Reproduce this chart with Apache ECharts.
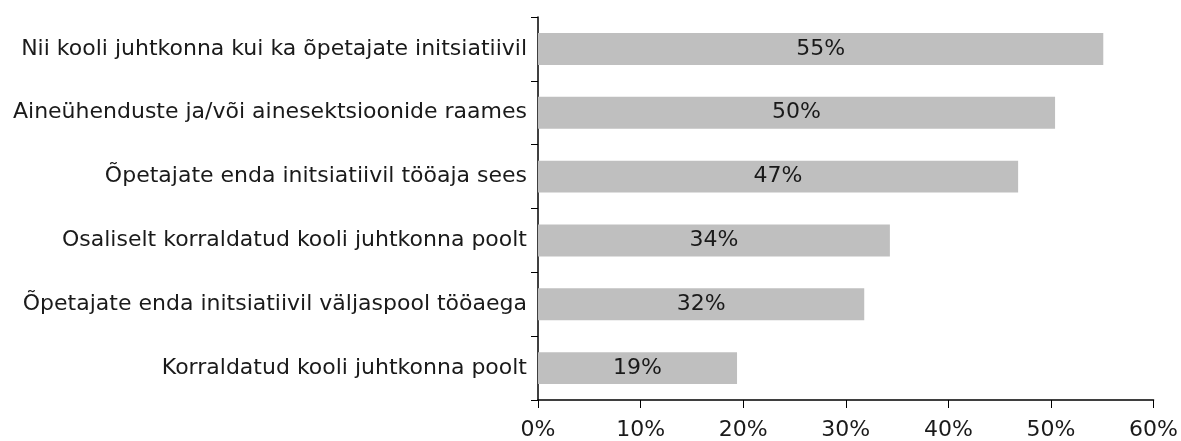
<!DOCTYPE html>
<html>
<head>
<meta charset="utf-8">
<script src="https://cdn.jsdelivr.net/npm/echarts@6/dist/echarts.min.js"></script>
<style>
  html, body { margin: 0; padding: 0; background: #fff; }
  #chart { width: 1181px; height: 441px; }
</style>
</head>
<body>
<div id="chart"></div>
<script>
// kategooriad (alt üles, nagu ECharts y-telg neid joonistab)
const categories = [
    'Korraldatud kooli juhtkonna poolt',
    'Õpetajate enda initsiatiivil väljaspool tööaega',
    'Osaliselt korraldatud kooli juhtkonna poolt',
    'Õpetajate enda initsiatiivil tööaja sees',
    'Aineühenduste ja/või ainesektsioonide raames',
    'Nii kooli juhtkonna kui ka õpetajate initsiatiivil'
]
// väärtused protsentides
const values = [19.4, 31.8, 34.3, 46.8, 50.4, 55.1]
const xTicks = [0, 10, 20, 30, 40, 50, 60]

let myChart = echarts.init(document.getElementById('chart'))
myChart.setOption({
    animation: false,
    textStyle: { fontFamily: 'DejaVu Sans' },
    grid: { left: 538, right: 27, top: 17, bottom: 41 },
    xAxis: {
        type: 'value',
        min: xTicks[0],
        max: xTicks[xTicks.length - 1],
        interval: 10,
        splitLine: { show: false },
        axisLine: { show: true, lineStyle: { color: '#000', width: 1.5 } },
        axisTick: { show: true, length: 8, lineStyle: { color: '#000' } },
        axisLabel: { color: '#1a1a1a', fontSize: 22, margin: 19, formatter: '{value}%' }
    },
    yAxis: {
        type: 'category',
        data: categories,
        axisLine: { lineStyle: { color: '#000', width: 1.5 } },
        axisTick: { show: true, length: 7, lineStyle: { color: '#000' } },
        axisLabel: { color: '#1a1a1a', fontSize: 22, margin: 11 }
    },
    series: [{
        type: 'bar',
        data: values,
        barCategoryGap: '50%',
        itemStyle: { color: '#bfbfbf' },
        label: {
            show: true,
            position: 'inside',
            color: '#1a1a1a',
            fontSize: 22,
            formatter: p => Math.round(p.value) + '%'
        }
    }]
})
</script>
</body>
</html>
